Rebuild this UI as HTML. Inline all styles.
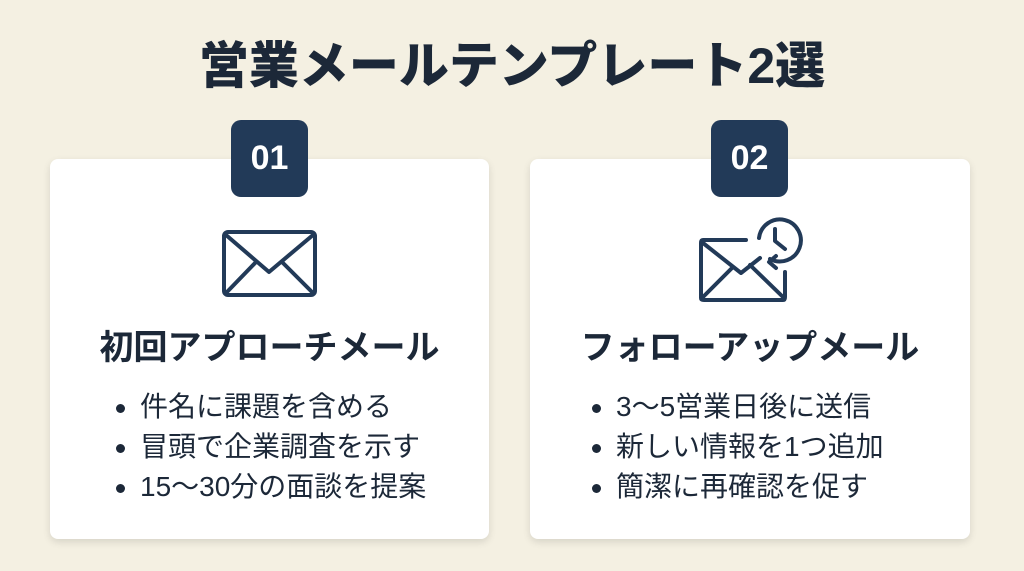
<!DOCTYPE html>
<html><head><meta charset="utf-8"><style>
body{margin:0;width:1024px;height:571px;background:#f4f0e2;font-family:"Liberation Sans","Noto Sans CJK JP",sans-serif;color:#1c2838;position:relative;overflow:hidden}
.t{position:absolute;left:0;width:1024px;top:36px;text-align:center;font-size:50px;font-weight:900;line-height:60px}
.card{position:absolute;top:159px;height:380px;background:#fff;border-radius:8px;box-shadow:0 3px 8px rgba(0,0,0,.12)}
.badge{position:absolute;top:120px;width:77px;height:77px;background:#223a58;border-radius:10px;color:#fff;font-weight:bold;font-size:34px;text-align:center;line-height:77px}
.h{position:absolute;top:326px;text-align:center;font-size:34px;font-weight:bold;line-height:44px}
ul{position:absolute;top:388px;margin:0;padding:0;list-style:none;font-size:28px}
li{height:40px;line-height:38px;position:relative;padding-left:24px}
li:before{content:"";position:absolute;left:0;top:16px;width:9px;height:9px;border-radius:50%;background:#1c2838}
</style></head><body>
<div class="t">営業メールテンプレート2選</div>
<div class="card" style="left:50px;width:439px"></div>
<div class="card" style="left:530px;width:440px"></div>
<div class="badge" style="left:231px">01</div>
<div class="badge" style="left:711px">02</div>
<svg style="position:absolute;left:0;top:0" width="1024" height="571" fill="none" stroke="#223a58" stroke-width="4" stroke-linejoin="round" stroke-linecap="round">
<rect x="224" y="232" width="91" height="63" rx="4"/>
<path d="M226 235 L269 272 L313 235 M226 293 L256 262 M313 293 L282 262"/>
<path d="M746 240 H703 Q701 240 701 243 V298 Q701 300 704 300 H783 Q785 300 785 297 V272"/>
<path d="M703 243 L741 273 L760 258 M703 297 L732 268 M783 297 L750 265"/>
<path d="M770 259 A21 21 0 1 0 759 238"/>
<path d="M775 229 V241 L785 249"/>
<path d="M776 268 L769 262 L776 256"/>
</svg>
<div class="h" style="left:50px;width:439px">初回アプローチメール</div>
<div class="h" style="left:530px;width:440px">フォローアップメール</div>
<ul style="left:116px"><li>件名に課題を含める</li><li>冒頭で企業調査を示す</li><li>15〜30分の面談を提案</li></ul>
<ul style="left:592px"><li>3〜5営業日後に送信</li><li>新しい情報を1つ追加</li><li>簡潔に再確認を促す</li></ul>
</body></html>
